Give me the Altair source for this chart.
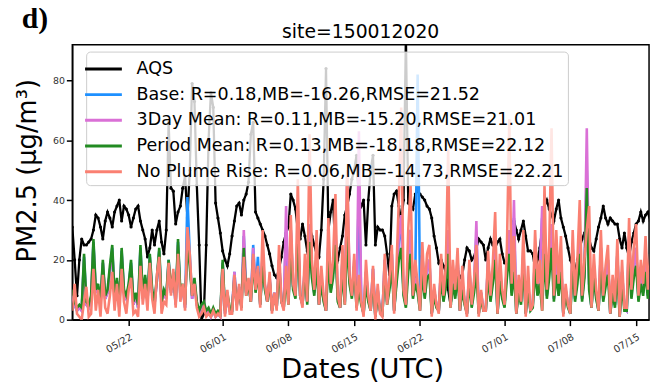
import altair as alt
import pandas as pd

# 6-hourly values starting 2018-05-16 00:00 (4 values per day)
aqs = [31, 20, 8, 20, 27, 25, 25, 26, 27, 30, 35, 34, 31, 27, 33, 36,
       34, 31, 36, 38, 40, 33, 38, 37, 35, 31, 34, 37, 38, 33, 30, 27,
       21, 24, 30, 25, 30, 33, 26, 22, 30, 66, 44, 43, 32, 36, 38, 44,
       48, 34, 50, 79, 73, 45, 25, 0, 2, 25, 60, 76, 71, 39, 34, 29,
       23, 20, 18, 22, 28, 33, 38, 39, 35, 40, 42, 46, 62, 66, 36, 34,
       32, 30, 28, 25, 22, 18, 15, 14, 17, 21, 26, 29, 31, 42, 40, 37,
       30, 27, 32, 28, 23, 25, 28, 25, 22, 21, 30, 47, 84, 30, 36, 40,
       22, 20, 24, 28, 35, 38, 42, 47, 50, 55, 40, 38, 40, 25, 40, 50,
       55, 25, 31, 30, 30, 28, 22, 15, 38, 42, 43, 38, 33, 40, 95, 39,
       38, 37, 42, 43, 42, 41, 40, 38, 37, 34, 28, 24, 19, 20, 18, 16,
       10, 5, 11, 16, 17, 14, 15, 20, 24, 23, 20, 21, 24, 27, 26, 25,
       20, 24, 27, 25, 24, 26, 27, 22, 19, 19, 20, 28, 33, 30, 27, 30,
       33, 28, 23, 23, 22, 17, 20, 24, 30, 38, 40, 37, 35, 33, 37, 40,
       34, 31, 28, 24, 20, 18, 16, 20, 24, 27, 29, 28, 27, 24, 23, 27,
       31, 34, 38, 34, 32, 34, 33, 32, 32, 27, 24, 29, 24, 21, 26, 29,
       32, 33, 36, 33, 35, 36, 33, 34]

base = [8, 5, 3, 4, 3, 21, 5, 4, 7, 26, 9, 11, 5, 19, 7, 9,
        16, 24, 7, 13, 4, 23, 9, 7, 11, 19, 5, 8, 4, 24, 7, 14,
        6, 21, 9, 5, 13, 23, 5, 9, 7, 20, 9, 15, 5, 26, 8, 11,
        4, 41, 22, 7, 13, 5, 2, 4, 5, 2, 3, 1, 3, 1, 2, 1,
        19, 2, 8, 3, 3, 16, 5, 11, 4, 28, 9, 13, 6, 25, 10, 21,
        5, 22, 11, 6, 14, 3, 9, 4, 20, 6, 4, 30, 6, 30, 11, 8,
        30, 8, 5, 18, 6, 30, 16, 9, 22, 5, 13, 7, 3, 25, 10, 16,
        30, 7, 4, 20, 6, 40, 14, 8, 18, 5, 45, 6, 2, 16, 7, 3,
        17, 1, 10, 3, 2, 20, 6, 12, 22, 3, 14, 26, 33, 9, 5, 22,
        30, 8, 14, 82, 10, 22, 8, 17, 20, 2, 10, 5, 3, 18, 7, 14,
        28, 5, 15, 8, 20, 3, 12, 6, 2, 17, 5, 11, 28, 2, 9, 3,
        3, 20, 7, 15, 26, 2, 16, 8, 5, 18, 28, 9, 34, 2, 12, 6,
        22, 2, 12, 3, 5, 22, 9, 15, 34, 24, 8, 18, 30, 7, 20, 9,
        20, 2, 10, 5, 2, 24, 7, 15, 26, 7, 16, 50, 12, 4, 18, 8,
        3, 24, 7, 14, 20, 2, 11, 5, 22, 1, 16, 4, 3, 27, 9, 18,
        24, 7, 15, 9, 22, 8, 16, 12]

threeday = [8, 5, 3, 4, 3, 20, 5, 4, 7, 25, 9, 11, 5, 19, 7, 9,
            16, 23, 7, 13, 4, 22, 9, 7, 11, 18, 5, 8, 4, 23, 7, 14,
            6, 20, 9, 5, 13, 22, 5, 9, 7, 19, 9, 15, 5, 25, 8, 11,
            4, 28, 20, 7, 13, 5, 2, 4, 5, 2, 3, 1, 3, 1, 2, 1,
            19, 2, 8, 3, 3, 16, 5, 11, 4, 30, 9, 13, 6, 24, 10, 17,
            5, 22, 11, 6, 14, 3, 9, 4, 20, 6, 4, 38, 6, 30, 11, 8,
            32, 8, 5, 18, 6, 32, 16, 9, 22, 5, 13, 7, 3, 26, 10, 16,
            32, 7, 4, 20, 6, 50, 14, 8, 20, 5, 63, 6, 2, 16, 7, 3,
            17, 1, 10, 3, 2, 20, 6, 12, 22, 3, 14, 28, 35, 9, 5, 22,
            30, 8, 14, 10, 3, 22, 8, 17, 20, 2, 10, 5, 3, 18, 7, 14,
            30, 5, 15, 8, 20, 3, 12, 6, 2, 17, 5, 11, 33, 2, 9, 3,
            3, 20, 7, 15, 28, 2, 16, 8, 5, 18, 30, 9, 40, 2, 12, 6,
            24, 2, 12, 3, 5, 22, 9, 15, 38, 26, 8, 18, 32, 7, 20, 9,
            20, 2, 10, 5, 2, 24, 7, 15, 28, 7, 16, 64, 12, 4, 18, 8,
            3, 24, 7, 14, 20, 2, 11, 5, 22, 1, 16, 4, 3, 28, 9, 18,
            24, 7, 15, 9, 22, 8, 16, 12]

period = [10, 6, 4, 5, 4, 22, 6, 5, 8, 27, 10, 12, 6, 20, 8, 10,
          18, 25, 8, 14, 5, 24, 10, 8, 12, 20, 6, 9, 5, 25, 8, 15,
          7, 22, 10, 6, 14, 24, 6, 10, 8, 20, 10, 16, 6, 27, 9, 12,
          5, 25, 18, 8, 14, 6, 3, 5, 6, 3, 4, 2, 4, 2, 3, 2,
          20, 3, 9, 4, 3, 14, 5, 10, 4, 24, 8, 12, 6, 20, 9, 16,
          5, 18, 10, 6, 13, 3, 8, 4, 18, 6, 4, 14, 5, 24, 10, 7,
          28, 8, 5, 16, 5, 26, 14, 8, 18, 5, 12, 6, 3, 20, 9, 14,
          25, 6, 4, 16, 5, 28, 12, 7, 18, 4, 10, 5, 2, 12, 6, 3,
          14, 1, 8, 3, 2, 16, 5, 10, 18, 3, 12, 20, 24, 8, 4, 16,
          22, 7, 12, 9, 3, 16, 7, 14, 15, 2, 8, 4, 3, 14, 6, 11,
          22, 4, 12, 7, 15, 3, 10, 5, 2, 13, 4, 9, 16, 2, 7, 3,
          3, 15, 6, 12, 20, 2, 13, 7, 4, 14, 22, 8, 16, 2, 9, 5,
          18, 2, 10, 3, 4, 17, 8, 12, 3, 22, 7, 14, 24, 6, 15, 8,
          16, 2, 8, 4, 2, 18, 6, 12, 22, 6, 14, 44, 10, 4, 14, 7,
          3, 18, 6, 11, 15, 2, 9, 4, 16, 1, 12, 3, 3, 20, 7, 14,
          18, 6, 12, 8, 16, 7, 13, 10]

noplume = [3, 12, 2, 1, 0, 6, 11, 1, 2, 17, 3, 10, 1, 15, 4, 2,
           8, 16, 3, 12, 1, 17, 6, 2, 10, 14, 2, 3, 1, 18, 5, 12,
           3, 19, 7, 2, 15, 21, 2, 6, 5, 19, 8, 17, 4, 22, 6, 12,
           3, 31, 22, 8, 12, 4, 1, 2, 4, 1, 2, 1, 3, 1, 2, 1,
           17, 1, 10, 2, 2, 15, 3, 12, 3, 21, 8, 14, 6, 22, 10, 18,
           4, 30, 12, 6, 16, 2, 9, 3, 25, 6, 3, 18, 5, 35, 12, 8,
           47, 8, 4, 22, 6, 62, 20, 10, 30, 5, 18, 8, 3, 34, 12, 20,
           42, 8, 4, 25, 5, 50, 15, 8, 22, 3, 15, 6, 1, 20, 8, 3,
           18, 0, 12, 2, 1, 22, 5, 14, 25, 2, 18, 40, 71, 10, 5, 30,
           45, 8, 20, 12, 3, 26, 9, 22, 25, 1, 12, 5, 2, 22, 8, 18,
           57, 4, 20, 10, 24, 3, 18, 6, 1, 20, 5, 13, 25, 1, 10, 3,
           3, 23, 8, 19, 36, 2, 22, 10, 5, 24, 67, 12, 28, 2, 15, 6,
           30, 1, 18, 3, 5, 30, 12, 20, 3, 45, 10, 25, 64, 8, 30, 12,
           28, 1, 12, 5, 2, 30, 8, 20, 40, 8, 20, 30, 38, 4, 22, 10,
           3, 30, 8, 18, 25, 2, 15, 6, 27, 1, 20, 4, 4, 34, 10, 24,
           32, 8, 20, 12, 28, 10, 22, 15]

labels = [
    "AQS",
    "Base: R=0.18,MB=-16.26,RMSE=21.52",
    "3Day Mean: R=0.11,MB=-15.20,RMSE=21.01",
    "Period Mean: R=0.13,MB=-18.18,RMSE=22.12",
    "No Plume Rise: R=0.06,MB=-14.73,RMSE=22.21",
]
colors = ["#000000", "#1e90ff", "#da70d6", "#228b22", "#fa8072"]
tick_days = [(5, 22), (6, 1), (6, 8), (6, 15), (6, 22), (7, 1), (7, 8), (7, 15)]

series = [aqs, base, threeday, period, noplume]

def frame(vals, label):
    t = pd.date_range("2018-05-16 00:00", periods=len(vals), freq="6h")
    return pd.DataFrame({"time": t, "value": vals, "series": label})

color_scale = alt.Scale(domain=labels, range=colors)
legend = alt.Legend(
    orient="none", legendX=14, legendY=7, title=None,
    symbolType="M-1.55,0H1.55", symbolStrokeWidth=3, symbolSize=576,
    labelFontSize=17.7, labelFont="DejaVu Sans", labelColor="black",
    labelLimit=1000, fillColor="rgba(255,255,255,0.8)",
    strokeColor="#cccccc", padding=4, cornerRadius=4,
    rowPadding=3, labelOffset=20,
)

x_enc = alt.X(
    "time:T",
    scale=alt.Scale(domain=[alt.DateTime(year=2018, month=5, date=16),
                            alt.DateTime(year=2018, month=7, date=16, hours=9)]),
    axis=alt.Axis(
        values=[alt.DateTime(year=2018, month=m, date=d) for m, d in tick_days],
        format="%m/%d", labelAngle=-30, labelAlign="right", labelBaseline="top",
        labelFontSize=10, labelFont="DejaVu Sans", labelColor="#333333",
        labelPadding=6, tickSize=6, tickWidth=1.5, tickColor="black",
        domainColor="black", domainWidth=1.5, grid=False,
        title="Dates (UTC)", titleFontSize=27.5, titleFont="DejaVu Sans",
        titleFontWeight="normal", titleColor="black",
        titleX=293, titleY=58, titleBaseline="alphabetic", titleAlign="center",
    ),
)
y_enc = alt.Y(
    "value:Q",
    scale=alt.Scale(domain=[0, 92], nice=False, zero=False),
    axis=alt.Axis(
        values=[0, 20, 40, 60, 80], labelFontSize=9.5, labelFont="DejaVu Sans",
        labelColor="#333333", labelPadding=2, tickSize=6, tickWidth=1.5,
        tickColor="black", domainColor="black", domainWidth=1.5, grid=False,
        title="PM2.5 (µg/m³)", titleFontSize=26, titleFont="DejaVu Sans",
        titleFontWeight="normal", titleColor="black", titleAngle=-90,
        titleX=-45, titleY=127, titleBaseline="middle", titleAlign="center",
    ),
)

layers = []
for vals, label, w in zip(series, labels, [2.3, 2.6, 2.6, 2.6, 2.6]):
    layers.append(
        alt.Chart(frame(vals, label)).mark_line(strokeWidth=w, clip=True).encode(
            x=x_enc, y=y_enc,
            color=alt.Color("series:N", scale=color_scale, legend=legend),
        )
    )
    if label == "AQS":
        layers.append(
            alt.Chart(frame(vals, label)).mark_point(
                filled=True, size=10, color="black", opacity=1, clip=True
            ).encode(x=x_enc, y=y_enc)
        )

tag = alt.Chart(pd.DataFrame({"t": ["d)"]})).mark_text(
    text="d)", font="Liberation Serif", fontSize=30, fontWeight="bold",
    align="left", baseline="alphabetic", color="black",
).encode(x=alt.value(-51), y=alt.value(-17))

chart = alt.layer(*layers, tag).properties(
    width=583, height=278,
    title=alt.TitleParams("site=150012020", fontSize=19, font="DejaVu Sans",
                          fontWeight="normal", color="black", anchor="middle",
                          offset=0, dy=38, frame="group"),
    autosize=alt.AutoSizeParams(type="none"),
    padding={"left": 65, "top": 35, "right": 4, "bottom": 66},
).configure_view(stroke="black", strokeWidth=1.5)

chart.save("out.html", embed_options={"renderer": "svg", "actions": False})
